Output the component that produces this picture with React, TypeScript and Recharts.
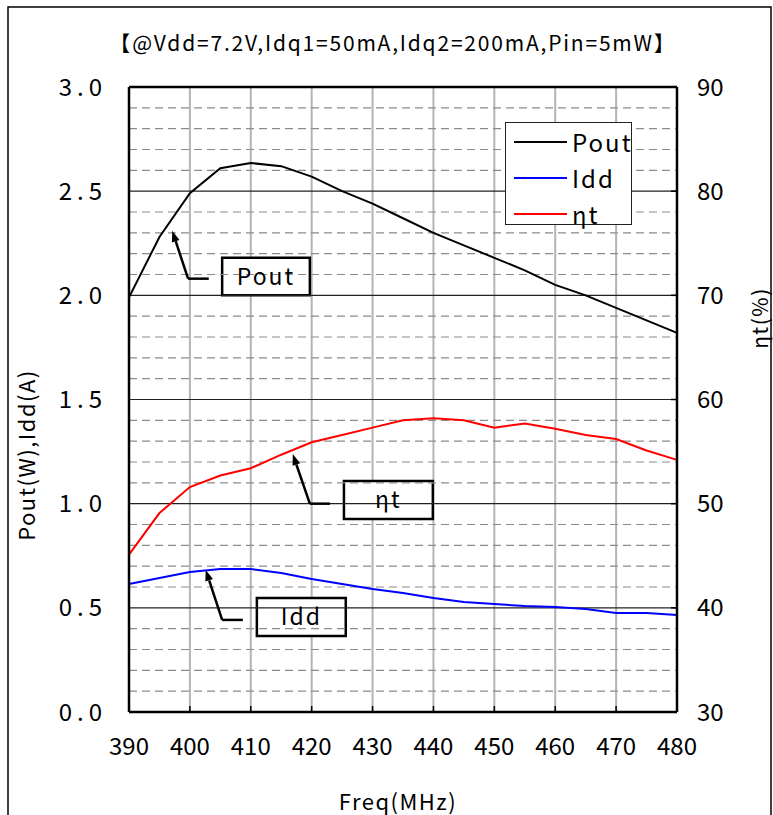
import React from 'react';
import {
  LineChart,
  Line,
  XAxis,
  YAxis,
  CartesianGrid,
  ReferenceLine,
  ReferenceArea,
  Legend,
  Label,
} from 'recharts';

const FONT = '"Noto Sans CJK JP", "Noto Sans", sans-serif';

// measured every 5 MHz
const freq = [390, 395, 400, 405, 410, 415, 420, 425, 430, 435, 440, 445, 450, 455, 460, 465, 470, 475, 480];
const pout = [1.99, 2.28, 2.49, 2.61, 2.635, 2.62, 2.57, 2.5, 2.44, 2.37, 2.3, 2.24, 2.18, 2.12, 2.05, 2.0, 1.94, 1.88, 1.82];
const idd = [0.614, 0.643, 0.672, 0.686, 0.686, 0.667, 0.638, 0.614, 0.59, 0.571, 0.547, 0.528, 0.518, 0.509, 0.504, 0.494, 0.475, 0.475, 0.466];
const eta = [45.1, 49.1, 51.6, 52.7, 53.4, 54.7, 55.9, 56.6, 57.3, 58.0, 58.2, 58.0, 57.3, 57.7, 57.2, 56.6, 56.2, 55.1, 54.2];

const freqTicks = [390, 400, 410, 420, 430, 440, 450, 460, 470, 480];
const leftTicks = [0, 0.5, 1.0, 1.5, 2.0, 2.5, 3.0];
const rightTicks = [30, 40, 50, 60, 70, 80, 90];
const minorLines = [
  0.1, 0.2, 0.3, 0.4, 0.6, 0.7, 0.8, 0.9, 1.1, 1.2, 1.3, 1.4, 1.6, 1.7, 1.8, 1.9,
  2.1, 2.2, 2.3, 2.4, 2.6, 2.7, 2.8, 2.9,
];
const majorLines = [0.5, 1.0, 1.5, 2.0, 2.5];

const title = '【@Vdd=7.2V,Idq1=50mA,Idq2=200mA,Pin=5mW】';

// callout boxes with their leader arrows, in axis units (freq, left axis)
const callouts = [
  { label: 'Pout', x1: 405.3, x2: 419.7, y1: 2.0, y2: 2.18, corner: [399.7, 2.08], end: [403.1, 2.08], tip: [397.1, 2.31] },
  { label: 'ηt', x1: 425.3, x2: 439.9, y1: 0.926, y2: 1.109, corner: [419.7, 1.0], end: [423.0, 1.0], tip: [416.9, 1.238] },
  { label: 'Idd', x1: 411.0, x2: 425.6, y1: 0.365, y2: 0.547, corner: [405.3, 0.442], end: [408.7, 0.442], tip: [402.6, 0.682] },
];

const legendItems = [
  { name: 'Pout', color: '#000000' },
  { name: 'Idd', color: '#0000ff' },
  { name: 'ηt', color: '#ff0000' },
];

const data = freq.map((f, i) => ({ freq: f, pout: pout[i], idd: idd[i], eta: eta[i] }));

const ArrowLine = (props: any) => {
  const { x1, y1, x2, y2 } = props;
  const a = Math.atan2(y2 - y1, x2 - x1);
  const len = 11;
  const w = 4;
  const bx = x2 - len * Math.cos(a);
  const by = y2 - len * Math.sin(a);
  const px = -Math.sin(a) * w;
  const py = Math.cos(a) * w;
  return (
    <g>
      <line x1={x1} y1={y1} x2={bx} y2={by} stroke="#000" strokeWidth={2.5} />
      <polygon points={`${x2},${y2} ${bx + px},${by + py} ${bx - px},${by - py}`} fill="#000" />
    </g>
  );
};

const LegendBox = () => (
  <svg width={128} height={104} style={{ display: 'block', overflow: 'visible' }}>
    <rect x={0.5} y={0.5} width={126} height={102} fill="#fff" stroke="#222" strokeWidth={1} />
    {legendItems.map((it, i) => (
      <g key={it.name}>
        <line x1={9} x2={62} y1={20 + i * 36} y2={20 + i * 36} stroke={it.color} strokeWidth={2} />
        <text x={67} y={19 + i * 36} dominantBaseline="central" fontFamily={FONT} fontSize={24} fill="#000" style={{ letterSpacing: 2 }}>
          {it.name}
        </text>
      </g>
    ))}
  </svg>
);

const tickStyle = { fill: '#000', fontSize: 24, fontFamily: FONT };

export default function App() {
  return (
    <div style={{ position: 'absolute', left: 0, top: 0, width: 773, height: 815, background: '#fff' }}>
      <LineChart width={773} height={815} data={data} margin={{ top: 87, right: 36, bottom: 63, left: 69 }}>
        <rect x={8} y={7} width={763} height={830} fill="none" stroke="#000" strokeWidth={1.5} />
        <text x={393} y={42} textAnchor="middle" dominantBaseline="central" fontFamily={FONT} fontSize={21} fill="#000" style={{ letterSpacing: 1.8 }}>
          {title}
        </text>
        <text x={25} y={455} transform="rotate(-90 25 455)" textAnchor="middle" dominantBaseline="central" fontFamily={FONT} fontSize={22} fill="#000" style={{ letterSpacing: 1.5 }}>
          Pout(W),Idd(A)
        </text>
        <text x={759} y={318} transform="rotate(-90 759 318)" textAnchor="middle" dominantBaseline="central" fontFamily={FONT} fontSize={21} fill="#000" style={{ letterSpacing: 1.5 }}>
          ηt(%)
        </text>
        <text x={398} y={800} textAnchor="middle" dominantBaseline="central" fontFamily={FONT} fontSize={22} fill="#000" style={{ letterSpacing: 1.5 }}>
          Freq(MHz)
        </text>

        <CartesianGrid horizontal={false} vertical stroke="#b4b4b4" strokeWidth={2} />
        {minorLines.map((v) => (
          <ReferenceLine key={'mi' + v} yAxisId="left" y={v} stroke="#8c8c8c" strokeWidth={1.2} strokeDasharray="8 5" />
        ))}
        {majorLines.map((v) => (
          <ReferenceLine key={'ma' + v} yAxisId="left" y={v} stroke="#222" strokeWidth={1.2} />
        ))}
        <ReferenceLine yAxisId="left" y={3} stroke="#000" strokeWidth={2.5} />

        <XAxis
          dataKey="freq"
          type="number"
          domain={[390, 480]}
          ticks={freqTicks}
          height={40}
          axisLine={{ stroke: '#000', strokeWidth: 2.5 }}
          tickLine={{ stroke: '#000', strokeWidth: 1.5 }}
          tickSize={-6}
          tickMargin={32}
          tick={tickStyle}
        />
        <YAxis
          yAxisId="left"
          domain={[0, 3]}
          ticks={leftTicks}
          width={60}
          axisLine={{ stroke: '#000', strokeWidth: 2.5 }}
          tickLine={false}
          tickMargin={16}
          tickFormatter={(v: number) => v.toFixed(1)}
          tick={{ ...tickStyle, style: { letterSpacing: 5 } }}
        />
        <YAxis
          yAxisId="right"
          orientation="right"
          domain={[30, 90]}
          ticks={rightTicks}
          width={60}
          axisLine={{ stroke: '#000', strokeWidth: 2.5 }}
          tickLine={{ stroke: '#000', strokeWidth: 1.5 }}
          tickSize={-6}
          tickMargin={26}
          tick={tickStyle}
        />

        <Line yAxisId="left" type="linear" dataKey="pout" name="Pout" stroke="#000000" strokeWidth={2} dot={false} isAnimationActive={false} />
        <Line yAxisId="left" type="linear" dataKey="idd" name="Idd" stroke="#0000ff" strokeWidth={2} dot={false} isAnimationActive={false} />
        <Line yAxisId="right" type="linear" dataKey="eta" name="ηt" stroke="#ff0000" strokeWidth={2} dot={false} isAnimationActive={false} />

        {callouts.map((c) => (
          <ReferenceArea key={'box' + c.label} yAxisId="left" x1={c.x1} x2={c.x2} y1={c.y1} y2={c.y2} fill="#fff" fillOpacity={1} stroke="#000" strokeWidth={2.5}>
            <Label value={c.label} position="center" fill="#000" fontSize={23} fontFamily={FONT} style={{ letterSpacing: 2 }} />
          </ReferenceArea>
        ))}
        {callouts.map((c) => (
          <ReferenceLine
            key={'h' + c.label}
            yAxisId="left"
            segment={[{ x: c.corner[0], y: c.corner[1] }, { x: c.end[0], y: c.end[1] }]}
            stroke="#000"
            strokeWidth={2.5}
          />
        ))}
        {callouts.map((c) => (
          <ReferenceLine
            key={'a' + c.label}
            yAxisId="left"
            segment={[{ x: c.corner[0], y: c.corner[1] }, { x: c.tip[0], y: c.tip[1] }]}
            shape={ArrowLine}
          />
        ))}

        <Legend
          layout="vertical"
          align="center"
          verticalAlign="middle"
          content={LegendBox}
          wrapperStyle={{ position: 'absolute', left: 505, top: 122, width: 128, height: 104 }}
        />
      </LineChart>
    </div>
  );
}
